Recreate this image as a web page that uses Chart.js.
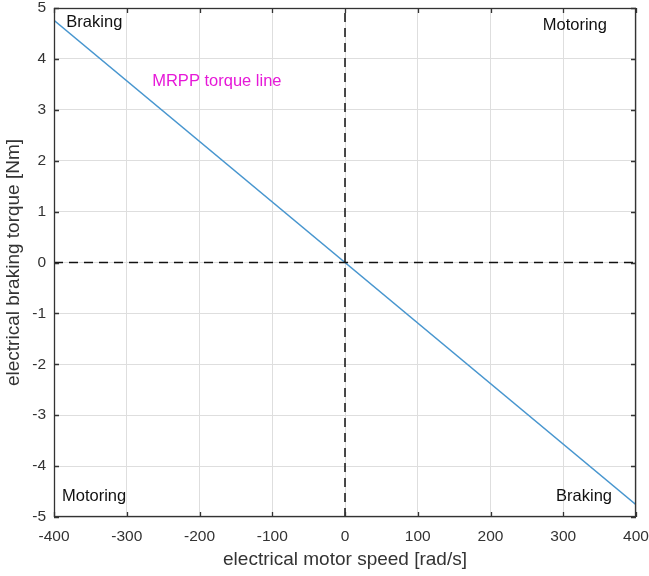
<!DOCTYPE html>
<html>
<head>
<meta charset="utf-8">
<script src="https://cdn.jsdelivr.net/npm/chart.js@4"></script>
<style>
  html, body { margin: 0; padding: 0; background: #fff; }
  #wrap { width: 649px; height: 576px; }
</style>
</head>
<body>
<div id="wrap"><canvas id="chart" width="649" height="576"></canvas></div>
<script>
// data
const speed = [-400, 400];
const torque = [4.76, -4.76];
const xTicks = [-400, -300, -200, -100, 0, 100, 200, 300, 400];
const yTicks = [-5, -4, -3, -2, -1, 0, 1, 2, 3, 4, 5];
const notes = [
  { text: "Braking", x: -383, y: 4.72, color: "#111", align: "left" },
  { text: "Motoring", x: 360, y: 4.66, color: "#111", align: "right" },
  { text: "MRPP torque line", x: -265, y: 3.55, color: "#e619d8", align: "left" },
  { text: "Motoring", x: -389, y: -4.6, color: "#111", align: "left" },
  { text: "Braking", x: 367, y: -4.6, color: "#111", align: "right" }
];

const FONT = "'Liberation Sans', Arial, sans-serif";

// inward tick marks on all four sides + text notes
const extras = {
  id: "extras",
  afterDatasetsDraw(chart) {
    const { ctx, chartArea: a, scales } = chart;
    const xs = scales.x, ys = scales.y;
    ctx.save();
    ctx.strokeStyle = "#333";
    ctx.lineWidth = 1.3;
    ctx.beginPath();
    xTicks.forEach(v => {
      const px = Math.round(xs.getPixelForValue(v)) + 0.5;
      ctx.moveTo(px, a.bottom); ctx.lineTo(px, a.bottom - 5);
      ctx.moveTo(px, a.top); ctx.lineTo(px, a.top + 5);
    });
    yTicks.forEach(v => {
      const py = Math.round(ys.getPixelForValue(v)) + 0.5;
      ctx.moveTo(a.left, py); ctx.lineTo(a.left + 5, py);
      ctx.moveTo(a.right, py); ctx.lineTo(a.right - 5, py);
    });
    ctx.stroke();
    ctx.strokeRect(a.left + 0.5, a.top + 0.5, a.right - a.left - 1, a.bottom - a.top - 1);

    ctx.font = "16.5px " + FONT;
    ctx.textBaseline = "middle";
    notes.forEach(n => {
      ctx.fillStyle = n.color;
      ctx.textAlign = n.align;
      ctx.fillText(n.text, xs.getPixelForValue(n.x), ys.getPixelForValue(n.y));
    });
    ctx.restore();
  }
};

new Chart(document.getElementById("chart"), {
  type: "scatter",
  data: {
    datasets: [
      {
        label: "zero speed",
        data: [{ x: 0, y: -5 }, { x: 0, y: 5 }],
        showLine: true,
        borderColor: "#111",
        borderWidth: 1.5,
        borderDash: [9, 6],
        pointRadius: 0
      },
      {
        label: "zero torque",
        data: [{ x: -400, y: 0 }, { x: 400, y: 0 }],
        showLine: true,
        borderColor: "#111",
        borderWidth: 1.5,
        borderDash: [9, 6],
        pointRadius: 0
      },
      {
        label: "MRPP torque line",
        data: speed.map((s, i) => ({ x: s, y: torque[i] })),
        showLine: true,
        borderColor: "#4896cf",
        borderWidth: 1.5,
        pointRadius: 0
      }
    ]
  },
  options: {
    responsive: false,
    animation: false,
    layout: { padding: { top: 8, right: 13, left: 0, bottom: 0 } },
    plugins: { legend: { display: false }, tooltip: { enabled: false } },
    scales: {
      x: {
        type: "linear",
        min: -400, max: 400,
        afterBuildTicks: s => { s.ticks = xTicks.map(v => ({ value: v })); },
        afterFit: s => { s.height = 59; s.paddingLeft = 0; s.paddingRight = 0; },
        grid: { color: "#dedede", drawTicks: false },
        border: { display: false },
        ticks: { color: "#333", padding: 10, font: { family: FONT, size: 15.5 }, maxRotation: 0 },
        title: { display: true, text: "electrical motor speed [rad/s]", color: "#333",
                 font: { family: FONT, size: 19 }, padding: { top: 2, bottom: 5 } }
      },
      y: {
        type: "linear",
        min: -5, max: 5,
        afterBuildTicks: s => { s.ticks = yTicks.map(v => ({ value: v })); },
        afterFit: s => { s.width = 54; s.paddingTop = 0; s.paddingBottom = 0; },
        grid: { color: "#dedede", drawTicks: false },
        border: { display: false },
        ticks: { color: "#333", padding: 8, font: { family: FONT, size: 15.5 } },
        title: { display: true, text: "electrical braking torque [Nm]", color: "#333",
                 font: { family: FONT, size: 19 }, padding: { top: 2, bottom: 0 } }
      }
    }
  },
  plugins: [extras]
});
</script>
</body>
</html>
